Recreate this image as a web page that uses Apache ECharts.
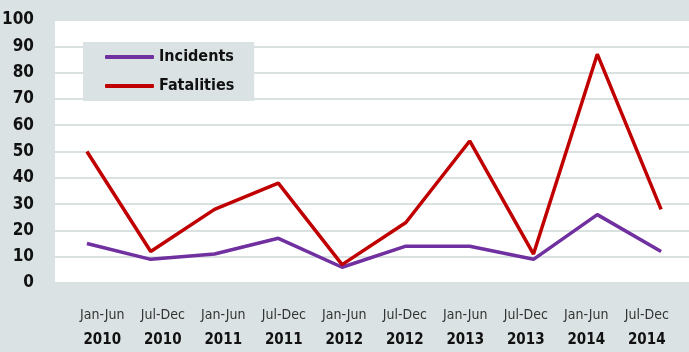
<!DOCTYPE html>
<html>
<head>
<meta charset="utf-8">
<script src="https://cdn.jsdelivr.net/npm/echarts@6/dist/echarts.min.js"></script>
<style>
html,body{margin:0;padding:0;background:#dae2e3;}
#c{width:689px;height:352px;}
</style>
</head>
<body>
<div id="c"></div>
<script>
const periods = ["Jan-Jun","Jul-Dec","Jan-Jun","Jul-Dec","Jan-Jun","Jul-Dec","Jan-Jun","Jul-Dec","Jan-Jun","Jul-Dec"];
const years = ["2010","2010","2011","2011","2012","2012","2013","2013","2014","2014"];
const incidents = [15, 9, 11, 17, 6, 14, 14, 9, 26, 12];
const fatalities = [50, 12, 28, 38, 7, 23, 54, 11, 87, 28];
const yTicks = [0,10,20,30,40,50,60,70,80,90,100];

const NARROW = '"Liberation Sans Narrow","DejaVu Sans Condensed","Open Sans",sans-serif';
const categories = periods.map((p,i)=>p+"\n"+years[i]);

const chart = echarts.init(document.getElementById('c'));
chart.setOption({
  backgroundColor: '#dae2e3',
  animation: false,
  grid: [
    {left: 55, top: 20, bottom: 69, width: 638, show: true, backgroundColor: '#ffffff', borderWidth: 0, outerBoundsMode: 'none', containLabel: false},
    {left: 72, top: 20, bottom: 69, width: 605, show: false, outerBoundsMode: 'none', containLabel: false}
  ],
  legend: {
    left: 83, top: 42, orient: 'vertical',
    backgroundColor: '#dae2e3',
    padding: [5, 20, 5, 22],
    itemWidth: 49, itemHeight: 4, itemGap: 9,
    icon: 'roundRect',
    textStyle: {fontFamily: NARROW, fontWeight: 'bold', fontSize: 16, color: '#111', lineHeight: 20},
    data: ['Incidents','Fatalities']
  },
  xAxis: [
    {type: 'category', gridIndex: 0, data: categories, boundaryGap: true,
     axisLine: {show: false}, axisTick: {show: false}, axisLabel: {show: false}, splitLine: {show: false}},
    {type: 'category', gridIndex: 1, data: categories, boundaryGap: true,
     axisLine: {show: false}, axisTick: {show: false}, splitLine: {show: false},
     axisLabel: {
       margin: 20, interval: 0,
       formatter: function(v){ const s = v.split("\n"); return '{a|'+s[0]+'}\n{b|'+s[1]+'}'; },
       rich: {
         a: {fontFamily: NARROW, fontSize: 14, color: '#333', lineHeight: 25},
         b: {fontFamily: NARROW, fontSize: 15, fontWeight: 'bold', color: '#111', lineHeight: 25}
       }
     }}
  ],
  yAxis: [
    {type: 'value', gridIndex: 0, min: 0, max: 100, interval: 10,
     axisLine: {show: false}, axisTick: {show: false},
     splitLine: {show: true, lineStyle: {color: '#d9e1e1', width: 2}},
     axisLabel: {margin: 21, fontFamily: NARROW, fontWeight: 'bold', fontSize: 17, color: '#111',
       formatter: function(v){ return yTicks.indexOf(v) >= 0 ? String(v) : ''; }}},
    {type: 'value', gridIndex: 1, min: 0, max: 100, show: false}
  ],
  series: [
    {name: 'Incidents', type: 'line', xAxisIndex: 0, yAxisIndex: 0, data: incidents,
     symbol: 'none', color: '#7030a0', lineStyle: {width: 3.5, color: '#7030a0'}},
    {name: 'Fatalities', type: 'line', xAxisIndex: 0, yAxisIndex: 0, data: fatalities,
     symbol: 'none', color: '#c00000', lineStyle: {width: 3.5, color: '#c00000'}}
  ]
});
</script>
</body>
</html>
